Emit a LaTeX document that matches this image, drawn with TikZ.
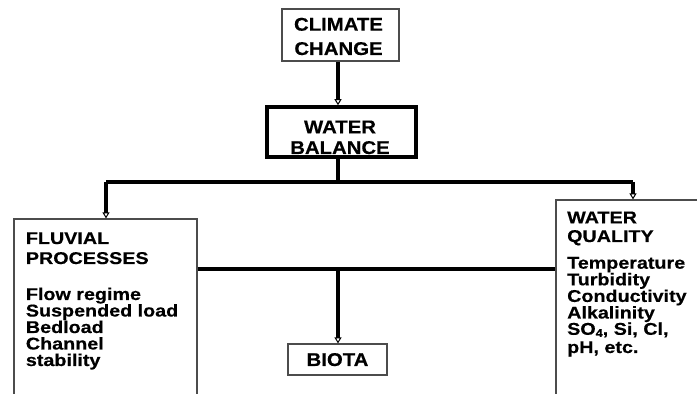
\documentclass[tikz,border=0pt]{standalone}
\usepackage{fontspec}
\setmainfont{Liberation Sans}[FakeStretch=1.1, BoldFeatures={FakeBold=0.4}]
\newfontfamily\sidefont{Liberation Sans}[FakeStretch=1.16, BoldFeatures={FakeBold=0.4}]
\usetikzlibrary{arrows.meta}
\newcommand{\lowfour}{\raisebox{-2pt}[0pt][0pt]{\fontsize{11}{11}\selectfont 4}}
\begin{document}
\begin{tikzpicture}[x=1pt,y=1pt,
  box/.style={draw=black!70, line width=1.2pt, inner sep=0pt},
  conn/.style={line width=3.5pt},
  arr/.style={line width=3.5pt, -{Triangle[open, length=6pt, width=7pt, line width=1pt]}},
  big/.style={font=\bfseries\fontsize{18.5}{21}\selectfont, inner sep=0pt},
  txt/.style={font=\sidefont\bfseries\fontsize{17}{17}\selectfont, inner sep=0pt, anchor=base west}]
\useasboundingbox (0,0) rectangle (697,394);
\fill[white] (0,0) rectangle (697,394);

% boxes
\node[box, minimum width=117pt, minimum height=52pt] (cc) at (340.5,359) {};
\node[draw=black, line width=3.5pt, inner sep=0pt, minimum width=149pt, minimum height=50pt] (wb) at (341.5,262) {};
\node[box, minimum width=183pt, minimum height=200pt] (fp) at (105.5,75) {};
\node[box, minimum width=164pt, minimum height=220pt] (wq) at (638,84) {};
\node[box, minimum width=99pt, minimum height=31pt] (bi) at (337.5,34.5) {};

% texts
\node[big, anchor=base] (cc1) at (338.5,363.3) {CLIMATE};
\node[big, anchor=base] (cc2) at (338.5,339) {CHANGE};
\node[big, anchor=base] (wb1) at (340,260.7) {WATER};
\node[big, anchor=base] (wb2) at (340,240) {BALANCE};
\node[big, anchor=base] (bi1) at (337.5,28) {BIOTA};

\node[txt] (f1) at (25.7,150) {FLUVIAL};
\node[txt] (f2) at (25.7,130) {PROCESSES};
\node[txt] (f3) at (25.7,94) {Flow regime};
\node[txt] (f4) at (25.7,77.5) {Suspended load};
\node[txt] (f5) at (25.7,61) {Bedload};
\node[txt] (f6) at (25.7,44.5) {Channel};
\node[txt] (f7) at (25.7,28) {stability};

\node[txt] (q1) at (567,170.7) {WATER};
\node[txt] (q2) at (567,152) {QUALITY};
\node[txt] (q3) at (567,125.3) {Temperature};
\node[txt] (q4) at (567,108.7) {Turbidity};
\node[txt] (q5) at (567,92.1) {Conductivity};
\node[txt] (q6) at (567,75.5) {Alkalinity};
\node[txt] (q7) at (567,59.2) {SO\lowfour, Si, Cl,};
\node[txt] (q8) at (567,41) {pH, etc.};

% junction points
\coordinate (j1) at (338,212);
\coordinate (jl) at (106,212);
\coordinate (jr) at (633,212);
\coordinate (ml) at (197,125);
\coordinate (mm) at (338,125);
\coordinate (mr) at (556,125);

% connectors
\draw[arr] (cc.south -| j1) -- (wb.north -| j1);
\draw[conn] (wb.south -| j1) -- (j1);
\draw[conn] (jl) -- (jr);
\draw[arr] (jl) -- (jl |- fp.north);
\draw[arr] (jr) -- (jr |- wq.north);
\draw[conn] (fp.east |- ml) -- (wq.west |- mr);
\draw[arr] (mm) -- (bi.north -| mm);
\end{tikzpicture}
\end{document}
